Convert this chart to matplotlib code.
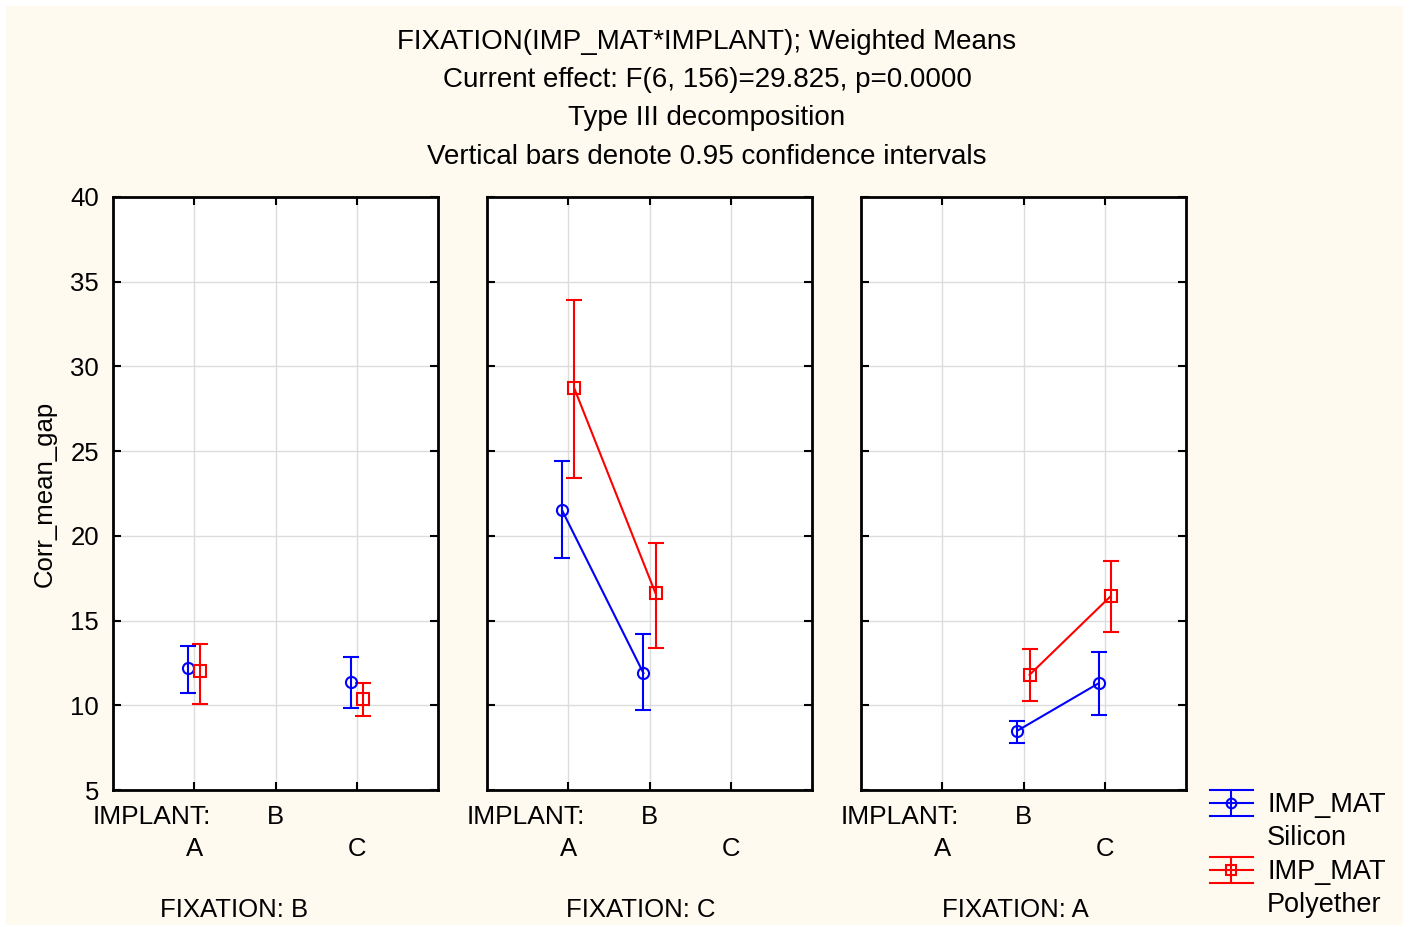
import matplotlib
matplotlib.use("Agg")
import matplotlib.pyplot as plt
import numpy as np
from matplotlib.patches import Rectangle

plt.rcParams['font.family'] = ['Liberation Sans', 'DejaVu Sans']

implants = ['A', 'B', 'C']
fixations = ['B', 'C', 'A']

# means / CI bounds, per fixation panel, per implant (nan = no data)
sil_mean = [[12.2, np.nan, 11.4], [21.5, 11.9, np.nan], [np.nan, 8.5, 11.3]]
sil_low = [[10.7, np.nan, 9.85], [18.7, 9.7, np.nan], [np.nan, 7.8, 9.4]]
sil_high = [[13.5, np.nan, 12.85], [24.4, 14.2, np.nan], [np.nan, 9.1, 13.15]]

pol_mean = [[12.0, np.nan, 10.4], [28.7, 16.6, np.nan], [np.nan, 11.8, 16.45]]
pol_low = [[10.1, np.nan, 9.35], [23.4, 13.4, np.nan], [np.nan, 10.25, 14.3]]
pol_high = [[13.6, np.nan, 11.3], [33.9, 19.6, np.nan], [np.nan, 13.3, 18.5]]

title_lines = ["FIXATION(IMP_MAT*IMPLANT); Weighted Means",
               "Current effect: F(6, 156)=29.825, p=0.0000",
               "Type III decomposition",
               "Vertical bars denote 0.95 confidence intervals"]

FS = 18.5
W, H = 1410, 927
fig = plt.figure(figsize=(W / 100, H / 100), dpi=100)
fig.patch.set_facecolor('white')
fig.patches.append(Rectangle((6 / W, 2 / H), 1397 / W, 919 / H, transform=fig.transFigure,
                             facecolor='#FFFAF0', edgecolor='none', zorder=-10))

for i, ty in enumerate([42, 80, 118, 157]):
    fig.text(707 / W, 1 - ty / H, title_lines[i], ha='center', va='center', fontsize=20)

lefts = [113, 487, 861]
pw = 325
top, bottom = 197, 790
fix_centers = [234, 641, 1015]
x = np.arange(1, 4)
off = 0.075

for p in range(3):
    ax = fig.add_axes([lefts[p] / W, 1 - bottom / H, pw / W, (bottom - top) / H])
    ax.set_facecolor('white')
    ax.set_xlim(0, 4)
    ax.set_ylim(5, 40)
    ax.set_yticks(np.arange(5, 41, 5))
    ax.set_xticks(x)
    ax.grid(True, color='#DCDCDC', linewidth=1)
    ax.set_axisbelow(True)
    ax.tick_params(direction='in', length=6, width=1.5, top=True, right=True,
                   labelsize=FS, labelbottom=False, pad=10)
    if p > 0:
        ax.tick_params(labelleft=False)
    for s in ax.spines.values():
        s.set_linewidth(2)
        s.set_color('black')

    sm = np.array(sil_mean[p]); sl = np.array(sil_low[p]); sh = np.array(sil_high[p])
    pm = np.array(pol_mean[p]); pl = np.array(pol_low[p]); ph = np.array(pol_high[p])
    ax.errorbar(x - off, sm, yerr=[sm - sl, sh - sm], color='blue', marker='o', ms=8,
                mfc='none', mew=1.5, lw=1.5, capsize=6, capthick=1.5, elinewidth=1.5)
    ax.errorbar(x + off, pm, yerr=[pm - pl, ph - pm], color='red', marker='s', ms=8,
                mfc='none', mew=1.5, lw=1.5, capsize=6, capthick=1.5, elinewidth=1.5)

    # category labels below the panel
    ax.text(-0.062, -0.045, 'IMPLANT:', transform=ax.transAxes, ha='left', va='center', fontsize=19)
    for k, lab in enumerate(implants):
        yy = -0.045 if k == 1 else -0.1
        ax.text(x[k], yy, lab, transform=ax.get_xaxis_transform(), ha='center', va='center', fontsize=FS)
    fig.text(fix_centers[p] / W, 1 - 910 / H, 'FIXATION: ' + fixations[p],
             ha='center', va='center', fontsize=FS)

    if p == 0:
        ax.set_ylabel('Corr_mean_gap', fontsize=FS, labelpad=10)

# legend drawn by hand at the right
lg = fig.add_axes([1200 / W, 0, 210 / W, 157 / H])
lg.set_xlim(1200, 1410)
lg.set_ylim(927, 770)
lg.axis('off')
for col, mk, y0, name in [('blue', 'o', 803, 'Silicon'), ('red', 's', 870, 'Polyether')]:
    for dy in (-13, 0, 13):
        lg.plot([1210, 1253], [y0 + dy, y0 + dy], color=col, lw=1.5)
    lg.plot([1231, 1231], [y0 - 13, y0 + 13], color=col, lw=1.5)
    lg.plot([1231], [y0], marker=mk, ms=7, mfc='none', mec=col, mew=1.5)
    lg.text(1267, y0 + 2, 'IMP_MAT', ha='left', va='center', fontsize=19.5)
    lg.text(1267, y0 + 35, name, ha='left', va='center', fontsize=19.5)

fig.savefig('out.png', dpi=100, facecolor=fig.get_facecolor())
